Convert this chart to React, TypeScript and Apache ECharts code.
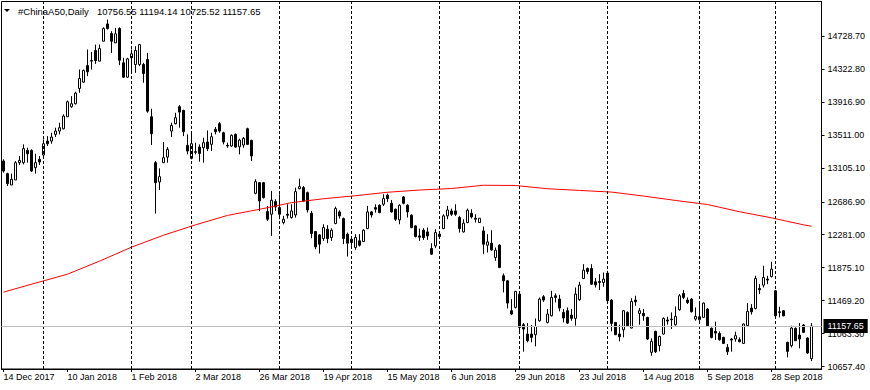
import React, { useEffect, useRef } from "react";
import * as echarts from "echarts";

const SYMBOL = "#ChinaA50,Daily";
const HOLIDAYS = [
  "2017-12-25", "2017-12-26", "2018-01-01", "2018-02-15", "2018-02-16", "2018-02-19",
  "2018-02-20", "2018-02-21", "2018-04-05", "2018-04-06", "2018-04-30", "2018-05-01",
  "2018-06-18", "2018-09-24",
];
const MONTHS = ["Jan", "Feb", "Mar", "Apr", "May", "Jun", "Jul", "Aug", "Sep", "Oct", "Nov", "Dec"];

const openP = [
  13188, 13033, 12893, 12955, 13168, 13168, 13319, 13319, 13106, 13209,
  13262, 13434, 13434, 13516, 13557, 13585, 13733, 13856, 13893, 14081,
  14159, 14363, 14417, 14548, 14417, 14662, 14875, 14757, 14642, 14818,
  14396, 14220, 14458, 14376, 14376, 14376, 14437, 13733, 13168, 12930,
  13168, 13237, 13557, 13647, 13856, 13811, 13381, 13221, 13303, 13360,
  13352, 13422, 13393, 13577, 13647, 13536, 13381, 13373, 13516, 13364,
  13385, 13585, 13442, 12791, 12922, 12922, 12566, 12533, 12689, 12615,
  12431, 12533, 12492, 12525, 12848, 12861, 12799, 12545, 12320, 12279,
  12234, 12349, 12247, 12419, 12562, 12480, 12288, 12226, 12124, 12206,
  12197, 12357, 12562, 12615, 12644, 12656, 12767, 12668, 12595, 12464,
  12746, 12644, 12521, 12390, 12267, 12337, 12316, 12111, 12144, 12288,
  12357, 12513, 12574, 12574, 12492, 12316, 12431, 12545, 12484, 12431,
  12328, 12152, 12177, 12001, 12152, 11776, 11714, 11346, 11387, 11550,
  11174, 11059, 11059, 11051, 11223, 11518, 11202, 11284, 11530, 11489,
  11325, 11346, 11292, 11252, 11481, 11743, 11866, 11866, 11702, 11706,
  11694, 11809, 11477, 11202, 11059, 11112, 11325, 11133, 11477, 11313,
  11313, 11264, 10834, 11092, 10916, 11059, 11231, 11243, 11174, 11358,
  11559, 11477, 11489, 11243, 11235, 11264, 11366, 11129, 11092, 11067,
  11018, 10895, 10998, 10998, 10990, 10944, 11162, 11379, 11374, 11620,
  11661, 11735, 11768, 11591, 11333, 11346, 10957, 10916, 11129, 11047,
  11170, 11010, 10756.55,
];
const highP = [
  13209, 13045, 13033, 13188, 13250, 13393, 13352, 13332, 13278, 13250,
  13454, 13495, 13536, 13598, 13659, 13762, 13933, 13987, 14040, 14314,
  14314, 14560, 14531, 14621, 14621, 14834, 14929, 14785, 14826, 14834,
  14458, 14458, 14560, 14601, 14630, 14396, 14519, 13831, 13188, 13098,
  13422, 13360, 13659, 13782, 13876, 13819, 13516, 13528, 13414, 13393,
  13475, 13565, 13536, 13606, 13667, 13549, 13414, 13516, 13528, 13463,
  13483, 13598, 13450, 12963, 12930, 12930, 12635, 12820, 12717, 12779,
  12513, 12656, 12656, 12861, 12971, 12881, 12812, 12574, 12328, 12288,
  12410, 12398, 12361, 12627, 12582, 12492, 12308, 12267, 12288, 12288,
  12349, 12636, 12574, 12656, 12656, 12779, 12787, 12709, 12603, 12656,
  12758, 12656, 12533, 12398, 12357, 12361, 12369, 12177, 12349, 12300,
  12533, 12636, 12603, 12656, 12513, 12472, 12603, 12595, 12533, 12484,
  12382, 12288, 12337, 12124, 12165, 11804, 11722, 11489, 11591, 11563,
  11194, 11194, 11170, 11251, 11509, 11538, 11366, 11591, 11559, 11542,
  11366, 11387, 11366, 11632, 11702, 11919, 11878, 11919, 11747, 11796,
  11817, 11837, 11489, 11202, 11174, 11354, 11338, 11501, 11530, 11379,
  11366, 11272, 11006, 11100, 11039, 11264, 11272, 11325, 11399, 11551,
  11600, 11510, 11501, 11387, 11428, 11448, 11379, 11141, 11211, 11092,
  11026, 10936, 11010, 11088, 11018, 11190, 11440, 11428, 11776, 11673,
  11899, 11776, 11948, 11600, 11395, 11354, 10965, 11162, 11141, 11194,
  11182, 11018, 11194.14,
];
const lowP = [
  13045, 12881, 12893, 12955, 13139, 13147, 13168, 13053, 13033, 13139,
  13250, 13373, 13401, 13483, 13516, 13577, 13733, 13843, 13884, 14028,
  14151, 14232, 14314, 14384, 14417, 14662, 14806, 14519, 14642, 14368,
  14212, 14212, 14273, 14273, 14355, 14151, 13782, 13385, 12541, 12832,
  13168, 13168, 13483, 13639, 13598, 13495, 13270, 13209, 13270, 13180,
  13168, 13311, 13311, 13516, 13536, 13393, 13352, 13360, 13352, 13270,
  13352, 13385, 13188, 12779, 12574, 12726, 12451, 12267, 12574, 12472,
  12410, 12480, 12480, 12492, 12840, 12685, 12554, 12238, 12103, 12050,
  12206, 12177, 12206, 12410, 12480, 12165, 12013, 12144, 12095, 12136,
  12193, 12349, 12492, 12554, 12545, 12636, 12685, 12554, 12451, 12410,
  12656, 12492, 12361, 12247, 12206, 12218, 12218, 12034, 12116, 12247,
  12349, 12472, 12513, 12513, 12308, 12308, 12423, 12480, 12431, 12431,
  12042, 12062, 12083, 11960, 11870, 11571, 11374, 11292, 11374, 11079,
  10842, 10957, 10957, 10908, 11211, 11456, 11190, 11276, 11448, 11338,
  11202, 11182, 11223, 11162, 11469, 11735, 11796, 11665, 11632, 11600,
  11641, 11428, 11092, 11047, 10969, 11018, 11162, 11129, 11407, 11174,
  11223, 10985, 10793, 10826, 10846, 11051, 11174, 11121, 11162, 11346,
  11489, 11428, 11325, 11223, 11223, 11264, 11149, 11006, 10985, 10977,
  10936, 10801, 10842, 10965, 10957, 10936, 11153, 11297, 11362, 11551,
  11632, 11673, 11755, 11276, 11264, 11276, 10772, 10895, 10977, 10883,
  11071, 10813, 10725.52,
];
const closeP = [
  13065, 12910, 12963, 13168, 13196, 13340, 13278, 13065, 13168, 13176,
  13401, 13401, 13483, 13557, 13598, 13741, 13917, 13893, 14024, 14204,
  14302, 14286, 14425, 14425, 14572, 14818, 14818, 14662, 14753, 14429,
  14220, 14445, 14507, 14548, 14621, 14265, 13802, 13524, 12922, 12996,
  13229, 13332, 13626, 13721, 13790, 13549, 13311, 13401, 13295, 13282,
  13414, 13340, 13487, 13549, 13557, 13422, 13373, 13504, 13360, 13446,
  13467, 13393, 13250, 12934, 12697, 12738, 12472, 12705, 12623, 12533,
  12472, 12521, 12574, 12812, 12873, 12697, 12586, 12296, 12132, 12165,
  12369, 12234, 12337, 12603, 12513, 12234, 12177, 12185, 12247, 12152,
  12337, 12562, 12525, 12595, 12554, 12726, 12726, 12562, 12472, 12644,
  12668, 12562, 12369, 12259, 12251, 12247, 12267, 12042, 12308, 12259,
  12513, 12586, 12533, 12533, 12357, 12423, 12582, 12500, 12472, 12484,
  12165, 12193, 12095, 12091, 11878, 11714, 11440, 11305, 11583, 11141,
  11120, 10977, 11018, 11153, 11489, 11477, 11305, 11510, 11510, 11379,
  11256, 11194, 11252, 11551, 11661, 11845, 11829, 11673, 11665, 11694,
  11735, 11469, 11190, 11051, 11026, 11346, 11162, 11460, 11456, 11346,
  11284, 10998, 10969, 10842, 11030, 11252, 11219, 11235, 11276, 11530,
  11510, 11448, 11333, 11276, 11272, 11440, 11162, 11018, 11071, 10990,
  10944, 10842, 10985, 11039, 10965, 11182, 11338, 11333, 11743, 11604,
  11755, 11723, 11858, 11284, 11325, 11284, 10846, 11133, 10977, 10998,
  11080, 10826, 11157.65,
];

// Moving average read at every 8th bar
const maIdx = [0, 8, 16, 24, 32, 40, 48, 56, 64, 72, 80, 88, 96, 104, 112, 120, 128, 136, 144, 152, 160, 168, 176, 184, 192, 200, 202];
const maVal = [
  11575, 11686, 11796, 11956, 12128, 12275, 12403, 12519, 12594, 12676,
  12724, 12761, 12804, 12831, 12850, 12890, 12887, 12847, 12826, 12806,
  12757, 12703, 12653, 12564, 12489, 12403, 12386,
];

const yTickValues = [10657.4, 11063.3, 11469.2, 11875.1, 12281.0, 12686.9, 13105.1, 13511.0, 13916.9, 14322.8, 14728.7];

const FONT = '"Liberation Sans", Arial, sans-serif';

function buildDates(n: number): string[] {
  const out: string[] = [];
  const d = new Date(Date.UTC(2017, 11, 14));
  while (out.length < n) {
    const wd = d.getUTCDay();
    const s = d.toISOString().slice(0, 10);
    if (wd !== 0 && wd !== 6 && HOLIDAYS.indexOf(s) < 0) out.push(s);
    d.setUTCDate(d.getUTCDate() + 1);
  }
  return out;
}

function fmtDate(s: string): string {
  const [y, m, d] = s.split("-");
  return `${parseInt(d, 10)} ${MONTHS[parseInt(m, 10) - 1]} ${y}`;
}

export default function App() {
  const ref = useRef<HTMLDivElement>(null);
  useEffect(() => {
    if (!ref.current) return;
    const chart = echarts.init(ref.current, null, { renderer: "svg" });
    const n = openP.length;
    const dates = buildDates(n + 2);
    const candles = openP.map((o, i) => [o, closeP[i], lowP[i], highP[i]]);
    const sepDates: string[] = [];
    for (let i = 1; i < n; i++) {
      if (dates[i].slice(5, 7) !== dates[i - 1].slice(5, 7)) sepDates.push(dates[i]);
    }
    const last = n - 1;
    const lastClose = closeP[last];
    const header = [openP[last], highP[last], lowP[last], closeP[last]].map((v) => v.toFixed(2)).join(" ");

    chart.setOption({
      animation: false,
      backgroundColor: "#ffffff",
      textStyle: { fontFamily: FONT },
      grid: {
        left: 1.5,
        top: 1.5,
        width: 820,
        height: 367.5,
        show: true,
        borderColor: "#000",
        borderWidth: 1,
        backgroundColor: "#fff",
      },
      xAxis: {
        type: "category",
        data: dates,
        boundaryGap: true,
        axisLine: { show: true, lineStyle: { color: "#000", width: 1 } },
        axisTick: { show: true, interval: 15, alignWithLabel: true, length: 3, lineStyle: { color: "#000" } },
        axisLabel: {
          interval: 15,
          formatter: (v: string) => fmtDate(v),
          align: "left",
          margin: 3,
          color: "#000",
          fontSize: 9,
          fontFamily: FONT,
        },
        splitLine: { show: false },
      },
      yAxis: {
        type: "value",
        position: "right",
        min: 10629,
        max: 15151,
        axisLine: { show: true, lineStyle: { color: "#000", width: 1 } },
        axisTick: { show: true, length: 3, customValues: yTickValues, lineStyle: { color: "#000" } },
        axisLabel: {
          customValues: yTickValues,
          formatter: (v: number) => v.toFixed(2),
          color: "#000",
          fontSize: 9,
          margin: 6,
          fontFamily: FONT,
        },
        splitLine: { show: false },
      },
      graphic: [
        { type: "polygon", shape: { points: [[4, 9], [10, 9], [7, 12]] }, style: { fill: "#000" }, z: 10 },
        { type: "text", x: 18, y: 6, style: { text: SYMBOL, fill: "#000", font: `9.5px ${FONT}` }, z: 10 },
        { type: "text", x: 97, y: 6, style: { text: header, fill: "#000", font: `9.5px ${FONT}` }, z: 10 },
      ],
      series: [
        {
          type: "line",
          data: [],
          z: 1,
          silent: true,
          markLine: {
            silent: true,
            symbol: "none",
            animation: false,
            label: { show: false },
            lineStyle: { color: "#000", type: [3, 2], width: 1 },
            data: sepDates.map((d) => ({ xAxis: d })),
          },
        },
        {
          type: "line",
          data: [],
          z: 1,
          silent: true,
          markLine: {
            silent: true,
            symbol: "none",
            animation: false,
            lineStyle: { color: "#c0c0c0", type: "solid", width: 1 },
            label: {
              show: true,
              position: "end",
              distance: 2,
              formatter: () => lastClose.toFixed(2),
              color: "#fff",
              backgroundColor: "#000",
              padding: [3, 4, 2, 4],
              fontSize: 9,
              fontFamily: FONT,
            },
            data: [{ yAxis: lastClose }],
          },
        },
        {
          type: "candlestick",
          data: candles,
          z: 2,
          silent: true,
          barWidth: 2,
          itemStyle: {
            color: "#fff",
            color0: "#000",
            borderColor: "#000",
            borderColor0: "#000",
            borderWidth: 1,
          },
        },
        {
          type: "line",
          data: maIdx.map((ix, k) => [ix, maVal[k]]),
          z: 3,
          silent: true,
          symbol: "none",
          lineStyle: { color: "#ff0000", width: 1 },
        },
      ],
    });
    return () => chart.dispose();
  }, []);
  return (
    <div
      ref={ref}
      style={{ position: "fixed", left: 0, top: 0, width: 870, height: 390, background: "#fff" }}
    />
  );
}
